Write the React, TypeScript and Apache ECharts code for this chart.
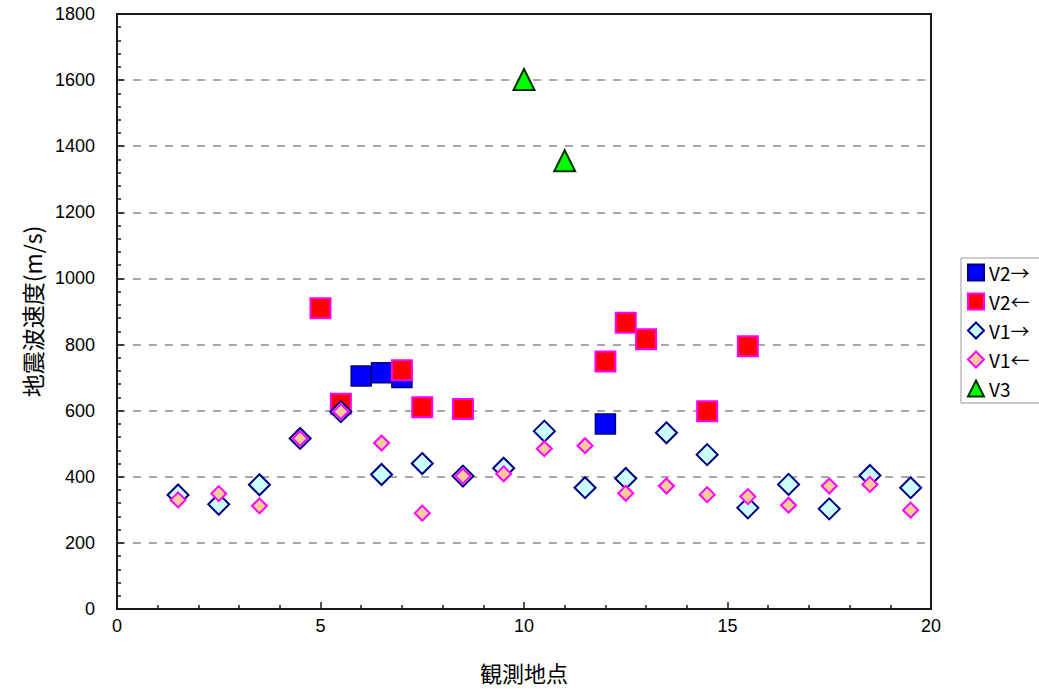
import React, { useEffect, useRef } from "react";
import * as echarts from "echarts";

// Survey points (m) and seismic wave velocities (m/s)
const v2ForwardX = [6, 6.5, 7, 12];
const v2ForwardY = [705, 715, 700, 560];

const v2ReverseX = [5, 5.5, 7, 7.5, 8.5, 12, 12.5, 13, 14.5, 15.5];
const v2ReverseY = [910, 621, 722, 610, 605, 749, 866, 816, 598, 795];

const v1ForwardX = [1.5, 2.5, 3.5, 4.5, 5.5, 6.5, 7.5, 8.5, 9.5, 10.5, 11.5, 12.5, 13.5, 14.5, 15.5, 16.5, 17.5, 18.5, 19.5];
const v1ForwardY = [345, 317, 376, 516, 597, 407, 440, 402, 426, 538, 367, 395, 533, 467, 306, 377, 303, 404, 367];

const v1ReverseX = [1.5, 2.5, 3.5, 4.5, 5.5, 6.5, 7.5, 8.5, 9.5, 10.5, 11.5, 12.5, 13.5, 14.5, 15.5, 16.5, 17.5, 18.5, 19.5];
const v1ReverseY = [330, 349, 312, 516, 597, 502, 290, 402, 409, 485, 494, 350, 372, 346, 340, 314, 372, 377, 299];

const v3X = [10, 11];
const v3Y = [1602, 1356];

const seriesNames = ["V2→", "V2←", "V1→", "V1←", "V3"];

const pair = (xs: number[], ys: number[]) => xs.map((x, i) => [x, ys[i]]);

const NUM_FONT = "'Liberation Sans', Arial, 'Noto Sans CJK JP', sans-serif";
const JP_FONT = "'Noto Sans CJK JP', sans-serif";

export default function App() {
  const ref = useRef<HTMLDivElement>(null);

  useEffect(() => {
    if (!ref.current) return;
    const chart = echarts.init(ref.current, undefined, { renderer: "svg" });
    chart.setOption({
      animation: false,
      backgroundColor: "#ffffff",
      grid: {
        left: 117,
        right: 108,
        top: 14,
        bottom: 80,
        outerBoundsMode: "none",
        show: true,
        borderColor: "#1a1a1a",
        borderWidth: 2,
        backgroundColor: "transparent",
      },
      legend: {
        orient: "vertical",
        left: 961,
        top: 258,
        data: seriesNames,
        itemWidth: 16,
        itemHeight: 16,
        itemGap: 10,
        padding: [5, 30, 5, 6],
        borderColor: "#999",
        borderWidth: 1,
        textStyle: { fontFamily: JP_FONT, fontSize: 19, color: "#000" },
      },
      xAxis: {
        type: "value",
        min: 0,
        max: 20,
        interval: 5,
        name: "観測地点",
        nameLocation: "middle",
        nameGap: 52,
        nameTextStyle: { fontFamily: JP_FONT, fontSize: 22, lineHeight: 22, color: "#000" },
        axisLine: { show: true, lineStyle: { color: "#1a1a1a", width: 2 } },
        axisTick: { show: true, inside: true, length: 7, lineStyle: { color: "#1a1a1a", width: 1.5 } },
        minorTick: { show: true, splitNumber: 5, length: 4, lineStyle: { color: "#1a1a1a", width: 1.5 } },
        axisLabel: { fontFamily: NUM_FONT, fontSize: 18, color: "#000", margin: 8 },
        splitLine: { show: false },
      },
      yAxis: {
        type: "value",
        min: 0,
        max: 1800,
        interval: 200,
        name: "地震波速度(m/s)",
        nameLocation: "middle",
        nameGap: 74,
        nameRotate: 90,
        nameTextStyle: { fontFamily: JP_FONT, fontSize: 23, color: "#000" },
        axisLine: { show: true, lineStyle: { color: "#1a1a1a", width: 2 } },
        axisTick: { show: true, inside: true, length: 7, lineStyle: { color: "#1a1a1a", width: 1.5 } },
        minorTick: { show: true, splitNumber: 5, length: 4, lineStyle: { color: "#1a1a1a", width: 1.5 } },
        axisLabel: {
          fontFamily: NUM_FONT,
          fontSize: 18,
          color: "#000",
          margin: 22,
          formatter: (v: number) => String(v),
        },
        splitLine: {
          show: true,
          showMinLine: false,
          showMaxLine: false,
          lineStyle: { color: "#8a8a8a", type: [8, 8], width: 1.5 },
        },
      },
      series: [
        {
          name: seriesNames[0],
          type: "scatter",
          symbol: "rect",
          symbolSize: 20,
          itemStyle: { color: "#0000ff", borderColor: "#000080", borderWidth: 1.5, opacity: 1 },
          data: pair(v2ForwardX, v2ForwardY),
          z: 2,
        },
        {
          name: seriesNames[1],
          type: "scatter",
          symbol: "rect",
          symbolSize: 20,
          itemStyle: { color: "#ff0000", borderColor: "#ff00ff", borderWidth: 2, opacity: 1 },
          data: pair(v2ReverseX, v2ReverseY),
          z: 3,
        },
        {
          name: seriesNames[2],
          type: "scatter",
          symbol: "diamond",
          symbolSize: 21,
          itemStyle: { color: "#ccffff", borderColor: "#000080", borderWidth: 2, opacity: 1 },
          data: pair(v1ForwardX, v1ForwardY),
          z: 4,
        },
        {
          name: seriesNames[3],
          type: "scatter",
          symbol: "diamond",
          symbolSize: 15,
          itemStyle: { color: "#ffcc99", borderColor: "#ff00ff", borderWidth: 2, opacity: 1 },
          data: pair(v1ReverseX, v1ReverseY),
          z: 5,
        },
        {
          name: seriesNames[4],
          type: "scatter",
          symbol: "triangle",
          symbolSize: 21,
          itemStyle: { color: "#00ff00", borderColor: "#003300", borderWidth: 2, opacity: 1 },
          data: pair(v3X, v3Y),
          z: 6,
        },
      ],
    });
    return () => chart.dispose();
  }, []);

  return <div ref={ref} style={{ width: 1039, height: 689, position: "absolute", left: 0, top: 0 }} />;
}
